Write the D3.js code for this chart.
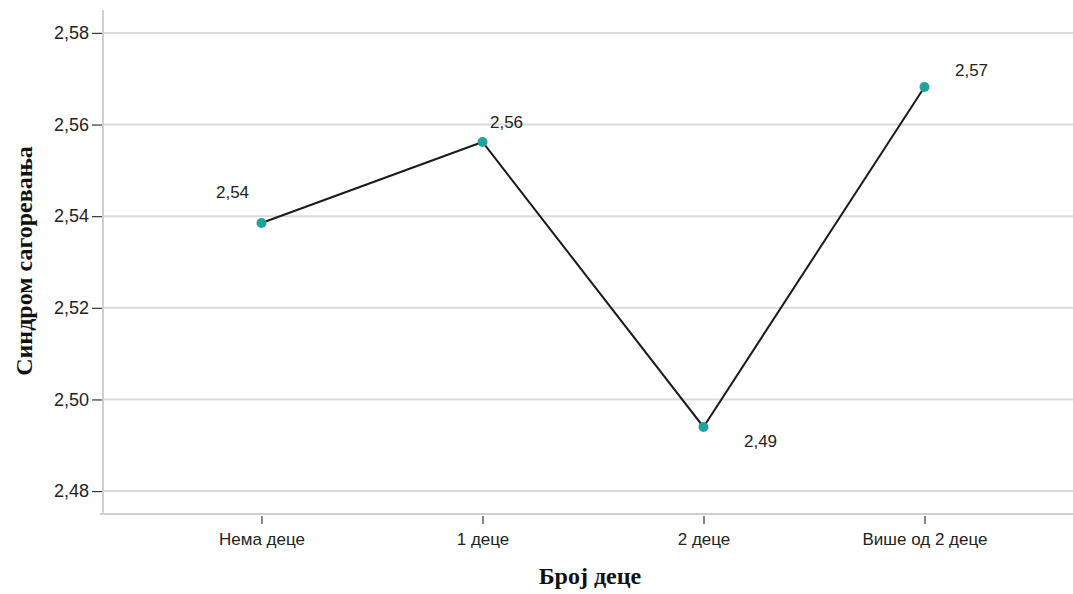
<!DOCTYPE html>
<html>
<head>
<meta charset="utf-8">
<script src="https://cdn.jsdelivr.net/npm/d3@7"></script>
<style>
  html, body { margin: 0; padding: 0; background: #fff; }
  svg { display: block; }
</style>
</head>
<body>
<svg id="chart" width="1073" height="594"></svg>
<script>
// ---- data ----
const categories = ["Нема деце", "1 деце", "2 деце", "Више од 2 деце"];
const means = [2.5385, 2.5562, 2.4940, 2.5682];
const yTickValues = [2.48, 2.50, 2.52, 2.54, 2.56, 2.58];
const xTitle = "Број деце";
const yTitle = "Синдром сагоревања";

// label placement (style, relative to each point): [dx, dy]
const labelOffsets = [[-29, -25], [24, -14], [57, 20], [47, -11]];

// ---- layout ----
const W = 1073, H = 594;
const mLeft = 103, mRight = 1073, mTop = 10, mBottom = 514;

const svg = d3.select("#chart");
const fmt = v => d3.format(".2f")(v).replace(".", ",");

const x = d3.scalePoint().domain(categories).range([151, 1035]).padding(0.5);
const y = d3.scaleLinear().domain([2.475, 2.585]).range([mBottom, mTop]);

// gridlines
svg.append("g").selectAll("line")
  .data(yTickValues).join("line")
  .attr("x1", mLeft).attr("x2", mRight)
  .attr("y1", d => y(d)).attr("y2", d => y(d))
  .attr("stroke", "#dadada").attr("stroke-width", 2);

// y axis
const yAxis = svg.append("g")
  .attr("transform", `translate(${mLeft},0)`)
  .call(d3.axisLeft(y).tickValues(yTickValues).tickFormat(fmt).tickSize(11).tickPadding(3));
yAxis.select(".domain").remove();
yAxis.selectAll(".tick line").attr("stroke", "#333").attr("stroke-width", 1.2).attr("x2", -11).attr("x1", -1);
yAxis.selectAll(".tick text")
  .attr("font-family", "'Liberation Sans', Arial, sans-serif")
  .attr("font-size", 18).attr("fill", "#222");

// axis lines
svg.append("line").attr("x1", mLeft).attr("x2", mLeft).attr("y1", mTop).attr("y2", mBottom)
  .attr("stroke", "#cfcfcf").attr("stroke-width", 2);

// x axis
const xAxis = svg.append("g")
  .attr("transform", `translate(0,${mBottom})`)
  .call(d3.axisBottom(x).tickSize(10).tickPadding(9));
xAxis.select(".domain").remove();
xAxis.selectAll(".tick line").attr("stroke", "#333").attr("stroke-width", 1.2).attr("y1", 2);
xAxis.selectAll(".tick text")
  .attr("font-family", "'Liberation Sans', Arial, sans-serif")
  .attr("font-size", 17).attr("fill", "#222");

svg.append("line").attr("x1", mLeft - 3).attr("x2", mRight).attr("y1", mBottom).attr("y2", mBottom)
  .attr("stroke", "#cfcfcf").attr("stroke-width", 2);

// line
const pts = categories.map((c, i) => ({ c, v: means[i], i }));
svg.append("path")
  .datum(pts)
  .attr("fill", "none")
  .attr("stroke", "#1a1a1a")
  .attr("stroke-width", 2)
  .attr("d", d3.line().x(d => x(d.c)).y(d => y(d.v)));

// markers
svg.append("g").selectAll("circle")
  .data(pts).join("circle")
  .attr("cx", d => x(d.c)).attr("cy", d => y(d.v))
  .attr("r", 5)
  .attr("fill", "#1fa39d");

// value labels
svg.append("g").selectAll("text")
  .data(pts).join("text")
  .attr("x", d => x(d.c) + labelOffsets[d.i][0])
  .attr("y", d => y(d.v) + labelOffsets[d.i][1])
  .attr("text-anchor", "middle")
  .attr("font-family", "'Liberation Sans', Arial, sans-serif")
  .attr("font-size", 17).attr("fill", "#222")
  .text(d => fmt(d.v));

// titles
svg.append("text")
  .attr("x", 590).attr("y", 584)
  .attr("text-anchor", "middle")
  .attr("font-family", "'Liberation Serif', 'Times New Roman', serif")
  .attr("font-weight", "bold")
  .attr("font-size", 24)
  .attr("fill", "#111")
  .text(xTitle);

svg.append("text")
  .attr("transform", "translate(32,261) rotate(-90)")
  .attr("text-anchor", "middle")
  .attr("font-family", "'Liberation Serif', 'Times New Roman', serif")
  .attr("font-weight", "bold")
  .attr("font-size", 24)
  .attr("fill", "#111")
  .text(yTitle);
</script>
</body>
</html>
